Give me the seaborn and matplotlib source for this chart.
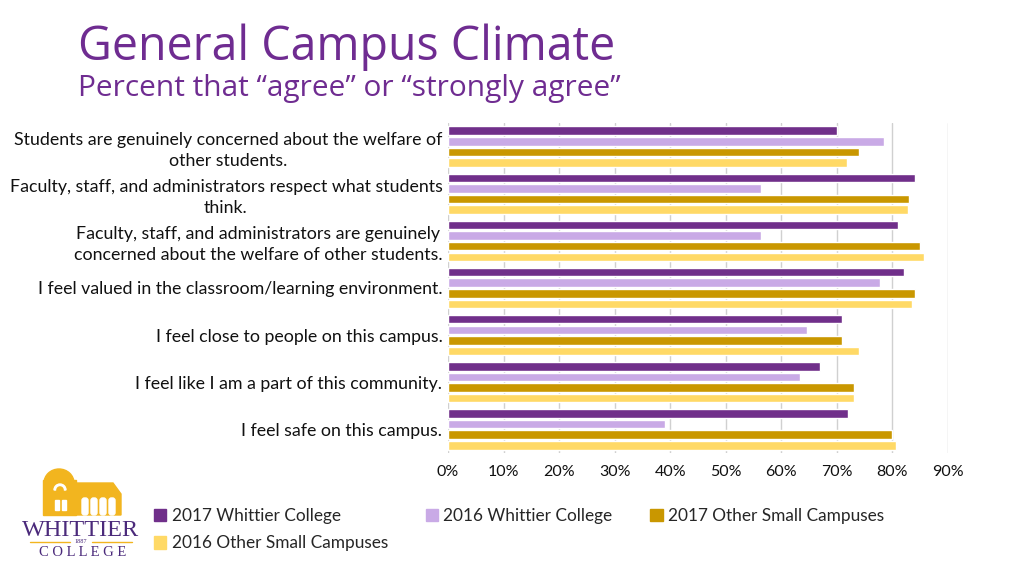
import matplotlib
matplotlib.use("Agg")
import matplotlib.pyplot as plt
import matplotlib.patches as mpatches
from matplotlib.ticker import PercentFormatter
import pandas as pd
import seaborn as sns

# ------------------------------------------
# data
# ------------------------------------------
statements = [
    "Students are genuinely concerned about the welfare of\nother students.",
    "Faculty, staff, and administrators respect what students\nthink.",
    "Faculty, staff, and administrators are genuinely\nconcerned about the welfare of other students.",
    "I feel valued in the classroom/learning environment.",
    "I feel close to people on this campus.",
    "I feel like I am a part of this community.",
    "I feel safe on this campus.",
]
series = [
    "2017 Whittier College",
    "2016 Whittier College",
    "2017 Other Small Campuses",
    "2016 Other Small Campuses",
]
whittier_2017 = [0.70, 0.84, 0.81, 0.82, 0.71, 0.67, 0.72]
whittier_2016 = [0.784, 0.563, 0.563, 0.778, 0.647, 0.633, 0.391]
other_2017 = [0.74, 0.83, 0.85, 0.84, 0.71, 0.73, 0.80]
other_2016 = [0.719, 0.828, 0.857, 0.835, 0.739, 0.73, 0.807]

colors = ["#702F8A", "#C9AAE6", "#C99700", "#FFD966"]
purple = "#6F2C91"

df = pd.DataFrame({
    "statement": statements * 4,
    "series": [s for s in series for _ in statements],
    "pct": whittier_2017 + whittier_2016 + other_2017 + other_2016,
})

sns.set_style("white")
plt.rcParams["font.family"] = ["Lato", "DejaVu Sans"]

fig = plt.figure(figsize=(10.24, 5.75), dpi=100)
ax = fig.add_axes([0.4375, 0.2122, 0.4883, 0.5739])

sns.barplot(
    data=df, x="pct", y="statement", hue="series",
    order=statements, hue_order=series, palette=colors,
    orient="h", width=0.9, gap=0.2, legend=False, ax=ax,
    saturation=1,
)

ax.set_xlim(0, 0.9)
ax.set_xticks([i / 10 for i in range(10)])
ax.xaxis.set_major_formatter(PercentFormatter(1.0, decimals=0))
ax.grid(axis="x", color="#D0D0D0", linewidth=1)
ax.grid(axis="y", visible=False)
ax.set_axisbelow(True)
for sp in ax.spines.values():
    sp.set_visible(False)
ax.set_xlabel("")
ax.set_ylabel("")
ax.tick_params(axis="x", length=0, labelsize=11.5, colors="#111111", pad=9)
ax.tick_params(axis="y", length=0, labelsize=12.75, colors="#111111", pad=4)
for lbl in ax.get_yticklabels():
    lbl.set_multialignment("center")
    lbl.set_linespacing(1.35)

# title
fig.text(0.076, 0.896, "General Campus Climate", family=["Open Sans", "DejaVu Sans"],
         fontsize=33.5, color=purple, va="baseline")
fig.text(0.076, 0.833, "Percent that \u201cagree\u201d or \u201cstrongly agree\u201d",
         family=["Open Sans", "DejaVu Sans"], fontsize=21.5, color=purple, va="baseline")

# legend (column order to match the slide)
idx = [0, 3, 1, 2]
handles = [mpatches.Patch(color=colors[i], label=series[i]) for i in idx]
fig.legend(handles=handles, ncol=3, loc="upper left", bbox_to_anchor=(0.1504, 0.117),
           frameon=False, fontsize=12.4, handlelength=0.72, handleheight=0.72,
           handletextpad=0.3, columnspacing=2.2, labelspacing=0.68,
           borderaxespad=0, borderpad=0)

# logo, drawn in pixel coordinates of the slide
lax = fig.add_axes([0.0, 0.0, 150 / 1024, 115 / 575])
lax.set_xlim(0, 150)
lax.set_ylim(575, 460)
lax.axis("off")
gold = "#F2B51F"
logo_purple = "#4B2A7B"
lax.add_patch(mpatches.Rectangle((43, 480), 33, 35, color=gold))
lax.add_patch(mpatches.Ellipse((59, 483), 30, 28, color=gold))
lax.add_patch(mpatches.Polygon([(74, 515), (74, 483), (113, 483), (121, 494), (121, 515)],
                               color=gold))
for x0 in [82, 91, 100, 109]:
    lax.add_patch(mpatches.FancyBboxPatch((x0, 498), 6, 17, boxstyle="round,pad=0,rounding_size=2.5",
                                          color="white"))
lax.add_patch(mpatches.Rectangle((55, 500), 4, 10, color="white"))
lax.add_patch(mpatches.Rectangle((62, 500), 4, 10, color="white"))
lax.add_patch(mpatches.Wedge((60, 490), 6, 180, 360, width=1.5, color="white"))
lax.text(81, 530, "WHITTIER", family=["Liberation Serif"], fontsize=17.5, color=logo_purple,
         ha="center", va="center")
lax.plot([30, 70], [542, 542], color=gold, lw=1)
lax.plot([92, 132], [542, 542], color=gold, lw=1)
lax.text(81, 541.5, "1887", family=["Liberation Serif"], fontsize=4.5, color=logo_purple,
         ha="center", va="center")
lax.text(83, 552, "C O L L E G E", family=["Liberation Serif"], fontsize=10.5, color=logo_purple,
         ha="center", va="center")

fig.savefig("out.png", dpi=100)
